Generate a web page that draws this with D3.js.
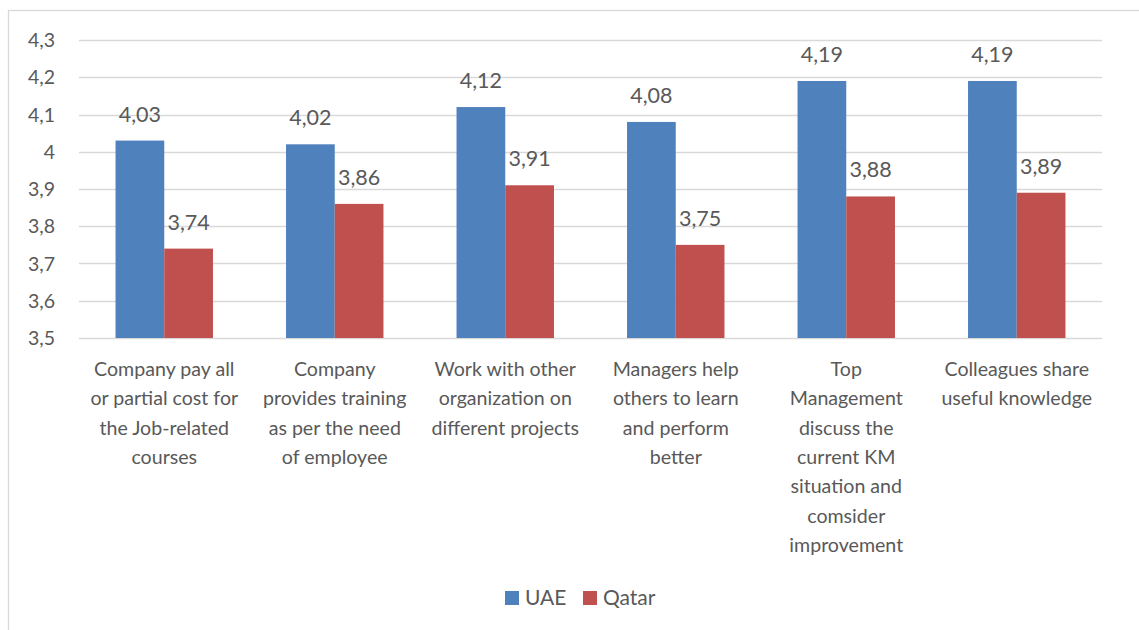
<!DOCTYPE html>
<html lang="en">
<head>
    <meta charset="UTF-8">
    <title>UAE vs Qatar</title>
    <script src="https://d3js.org/d3.v7.min.js"></script>
    <style>
        body { margin: 0; background: #fff; }
        svg { display: block; font-family: Lato, "Open Sans", sans-serif; }
        .grid line { stroke: #d9d9d9; stroke-width: 1.3px; }
        .tick-label, .cat-label, .data-label, .legend-label { fill: #595959; }
    </style>
</head>
<body>
    <svg id="chart"></svg>
    <script>
        // categories (already wrapped the way the original chart wraps them)
        const categories = [
            ["Company pay all", "or partial cost for", "the Job-related", "courses"],
            ["Company", "provides training", "as per the need", "of employee"],
            ["Work with other", "organization on", "different projects"],
            ["Managers help", "others to learn", "and perform", "better"],
            ["Top", "Management", "discuss the", "current KM", "situation and", "comsider", "improvement"],
            ["Colleagues share", "useful knowledge"]
        ];
        const seriesNames = ["UAE", "Qatar"];
        const uae = [4.03, 4.02, 4.12, 4.08, 4.19, 4.19];
        const qatar = [3.74, 3.86, 3.91, 3.75, 3.88, 3.89];
        const yTicks = [3.5, 3.6, 3.7, 3.8, 3.9, 4.0, 4.1, 4.2, 4.3];
        const colors = ["#4f81bd", "#c0504d"];

        const width = 1139, height = 630;
        const svg = d3.select("#chart").attr("width", width).attr("height", height);

        // outer chart frame
        svg.append("rect")
            .attr("x", 8.5).attr("y", 10.5)
            .attr("width", width + 10).attr("height", height + 10)
            .attr("fill", "none").attr("stroke", "#d9d9d9").attr("stroke-width", 1.3);

        const plot = { left: 79, right: 1102, top: 40, bottom: 338 };
        const fmt = v => d3.format(".2f")(v).replace(".", ",");
        const fmtTick = v => (Math.round(v * 10) / 10).toString().replace(".", ",");

        const y = d3.scaleLinear().domain([3.5, 4.3]).range([plot.bottom, plot.top]);
        const x0 = d3.scaleBand().domain(d3.range(categories.length))
            .range([plot.left, plot.right]).paddingInner(0).paddingOuter(0);
        // Excel gap width 150% -> bars occupy 2 / 3.5 of each slot
        const x1 = d3.scaleBand().domain(seriesNames)
            .range([x0.bandwidth() * 0.75 / 3.5, x0.bandwidth() * 2.75 / 3.5]);

        // gridlines
        svg.append("g").attr("class", "grid")
            .selectAll("line").data(yTicks).enter().append("line")
            .attr("x1", plot.left).attr("x2", plot.right)
            .attr("y1", d => Math.round(y(d)) + 0.5).attr("y2", d => Math.round(y(d)) + 0.5);

        // y tick labels
        svg.append("g").selectAll("text").data(yTicks).enter().append("text")
            .attr("class", "tick-label")
            .attr("x", 55).attr("y", d => y(d) + 7)
            .attr("text-anchor", "end").attr("font-size", 19.5)
            .text(fmtTick);

        const rows = categories.map((c, i) => ({ i, values: [uae[i], qatar[i]] }));

        const groups = svg.append("g").selectAll("g").data(rows).enter().append("g")
            .attr("transform", d => `translate(${x0(d.i)},0)`);

        groups.selectAll("rect")
            .data(d => d.values.map((v, k) => ({ k, v })))
            .enter().append("rect")
            .attr("x", d => x1(seriesNames[d.k]))
            .attr("width", x1.bandwidth())
            .attr("y", d => y(d.v))
            .attr("height", d => y(3.5) - y(d.v))
            .attr("fill", d => colors[d.k]);

        groups.selectAll(".data-label")
            .data(d => d.values.map((v, k) => ({ k, v })))
            .enter().append("text")
            .attr("class", "data-label")
            .attr("x", d => x1(seriesNames[d.k]) + x1.bandwidth() / 2)
            .attr("y", d => y(d.v) - 19)
            .attr("text-anchor", "middle").attr("font-size", 21.5)
            .text(d => fmt(d.v));

        // category labels
        groups.append("text")
            .attr("class", "cat-label")
            .attr("text-anchor", "middle").attr("font-size", 19.6)
            .selectAll("tspan").data(d => categories[d.i]).enter().append("tspan")
            .attr("x", x0.bandwidth() / 2)
            .attr("y", (d, j) => 376 + j * 29.3)
            .text(d => d);

        // legend
        const legendPos = [505, 583];
        const legend = svg.append("g").selectAll("g").data(seriesNames).enter().append("g")
            .attr("transform", (d, i) => `translate(${legendPos[i]},591)`);
        legend.append("rect").attr("width", 14).attr("height", 14).attr("fill", (d, i) => colors[i]);
        legend.append("text").attr("class", "legend-label")
            .attr("x", 20).attr("y", 14).attr("font-size", 21)
            .text(d => d);
    </script>
</body>
</html>
